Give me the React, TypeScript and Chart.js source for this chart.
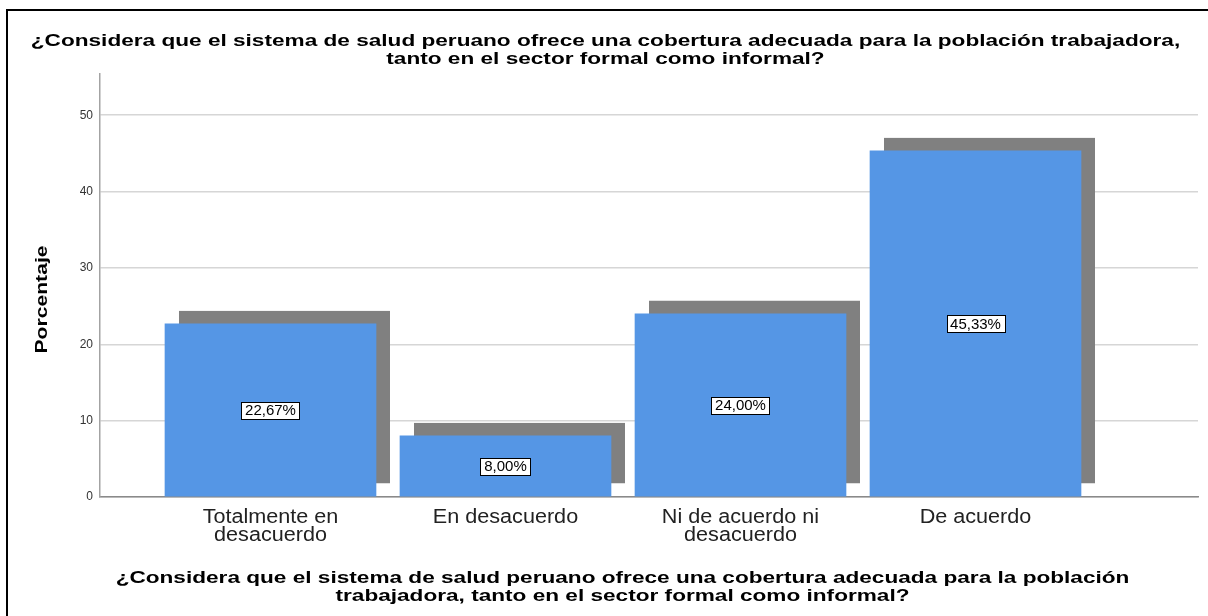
import React, { useEffect, useRef } from 'react';
import { Chart, registerables } from 'chart.js';

Chart.register(...registerables);

// ---- data ----
const categories: string[][] = [
  ['Totalmente en', 'desacuerdo'],
  ['En desacuerdo'],
  ['Ni de acuerdo ni', 'desacuerdo'],
  ['De acuerdo'],
];
const percentages: number[] = [22.67, 8.0, 24.0, 45.33];
const yTickValues: number[] = [0, 10, 20, 30, 40, 50];
const titleLines: string[] = [
  '¿Considera que el sistema de salud peruano ofrece una cobertura adecuada para la población trabajadora,',
  'tanto en el sector formal como informal?',
];
const xTitleLines: string[] = [
  '¿Considera que el sistema de salud peruano ofrece una cobertura adecuada para la población',
  'trabajadora, tanto en el sector formal como informal?',
];
const yTitle = 'Porcentaje';
const Y_MAX = 55.4;
const X_MIN = -0.7255;
const X_MAX = 3.9468;

const FONT = "'Liberation Sans', Arial, Helvetica, sans-serif";
const BAR_BLUE = '#5596e5';
const SHADOW = '#808080';

const fmt = (v: number) => v.toFixed(2).replace('.', ',') + '%';

function stretchText(
  ctx: CanvasRenderingContext2D,
  text: string,
  x: number,
  y: number,
  sx: number,
  font: string,
  color: string,
  rotate = 0
) {
  ctx.save();
  ctx.translate(x, y);
  if (rotate) ctx.rotate(rotate);
  ctx.scale(sx, 1);
  ctx.font = font;
  ctx.fillStyle = color;
  ctx.textAlign = 'center';
  ctx.textBaseline = 'alphabetic';
  ctx.fillText(text, 0, 0);
  ctx.restore();
}

const decorPlugin = {
  id: 'decor',
  beforeDatasetsDraw(chart: any) {
    const ctx: CanvasRenderingContext2D = chart.ctx;
    const meta = chart.getDatasetMeta(0);
    ctx.save();
    ctx.fillStyle = SHADOW;
    meta.data.forEach((bar: any) => {
      const { x, y, base, width } = bar.getProps(['x', 'y', 'base', 'width'], true);
      ctx.fillRect(x - width / 2 + 14, y - 13, width, base - y);
    });
    ctx.restore();
  },
  afterDatasetsDraw(chart: any) {
    const ctx: CanvasRenderingContext2D = chart.ctx;
    const meta = chart.getDatasetMeta(0);
    ctx.save();
    ctx.font = `15px ${FONT}`;
    meta.data.forEach((bar: any, i: number) => {
      const { x, y, base } = bar.getProps(['x', 'y', 'base'], true);
      const cy = (y + base) / 2;
      const txt = fmt(percentages[i]);
      const w = Math.round(ctx.measureText(txt).width + 7);
      const h = 17;
      const left = Math.round(x - w / 2) + 0.5;
      const top = Math.round(cy - h / 2) + 0.5;
      ctx.fillStyle = '#ffffff';
      ctx.fillRect(left, top, w, h);
      ctx.strokeStyle = '#000000';
      ctx.lineWidth = 1;
      ctx.strokeRect(left, top, w, h);
      ctx.fillStyle = '#000000';
      ctx.textAlign = 'center';
      ctx.textBaseline = 'alphabetic';
      ctx.fillText(txt, x, cy + 5.3);
    });
    ctx.restore();
  },
  afterDraw(chart: any) {
    const ctx: CanvasRenderingContext2D = chart.ctx;
    const area = chart.chartArea;
    const xs = chart.scales.x;
    // category labels
    categories.forEach((lines, i) => {
      const px = xs.getPixelForValue(i);
      lines.forEach((ln, j) => {
        stretchText(ctx, ln, px, area.bottom + 25.7 + j * 18, 1.08, `20px ${FONT}`, '#222222');
      });
    });
    // main title
    titleLines.forEach((ln, j) => {
      stretchText(ctx, ln, 605.5, 46 + j * 17.5, 1.37, `bold 16.5px ${FONT}`, '#000000');
    });
    // x axis title
    xTitleLines.forEach((ln, j) => {
      stretchText(ctx, ln, 622.5, 583 + j * 17.5, 1.37, `bold 16.5px ${FONT}`, '#000000');
    });
    // y axis title
    stretchText(ctx, yTitle, 46.7, (area.top + area.bottom) / 2 + 14, 1.28, `bold 16.5px ${FONT}`, '#000000', -Math.PI / 2);
  },
};

export default function App() {
  const ref = useRef<HTMLCanvasElement | null>(null);

  useEffect(() => {
    if (!ref.current) return;
    const chart = new Chart(ref.current, {
      type: 'bar',
      data: {
        datasets: [
          {
            data: percentages.map((v, i) => ({ x: i, y: v })),
            backgroundColor: BAR_BLUE,
            borderWidth: 0,
            barThickness: 211,
          },
        ],
      },
      options: {
        responsive: false,
        animation: false,
        layout: { padding: { left: 70, top: 74, right: 10, bottom: 0 } },
        plugins: {
          legend: { display: false },
          title: { display: false },
          tooltip: { enabled: false },
        },
        scales: {
          x: {
            type: 'linear',
            min: X_MIN,
            max: X_MAX,
            offset: false,
            grid: { display: false, drawTicks: false },
            border: { display: true, color: '#8a8a8a', width: 1.5 },
            ticks: { display: false },
            afterFit: (s: any) => {
              s.height = 119;
            },
          },
          y: {
            type: 'linear',
            min: 0,
            max: Y_MAX,
            grid: { color: '#d6d6d6', lineWidth: 1.5, drawTicks: false },
            border: { display: true, color: '#a3a3a3', width: 1.5 },
            ticks: {
              padding: 7,
              color: '#333333',
              font: { family: FONT, size: 12 },
            },
            afterBuildTicks: (s: any) => {
              s.ticks = yTickValues.map((v) => ({ value: v }));
            },
            afterFit: (s: any) => {
              s.width = 30;
            },
          },
        },
      } as any,
      plugins: [decorPlugin],
    });
    return () => chart.destroy();
  }, []);

  return (
    <div
      style={{
        position: 'fixed',
        left: 0,
        top: 0,
        width: 1208,
        height: 616,
        background: '#ffffff',
        overflow: 'hidden',
      }}
    >
      <div
        style={{
          position: 'absolute',
          left: 6,
          top: 9,
          width: 1400,
          height: 800,
          borderTop: '2px solid #000',
          borderLeft: '2px solid #000',
        }}
      />
      <canvas
        ref={ref}
        width={1208}
        height={616}
        style={{ position: 'absolute', left: 0, top: 0, width: 1208, height: 616 }}
      />
    </div>
  );
}
